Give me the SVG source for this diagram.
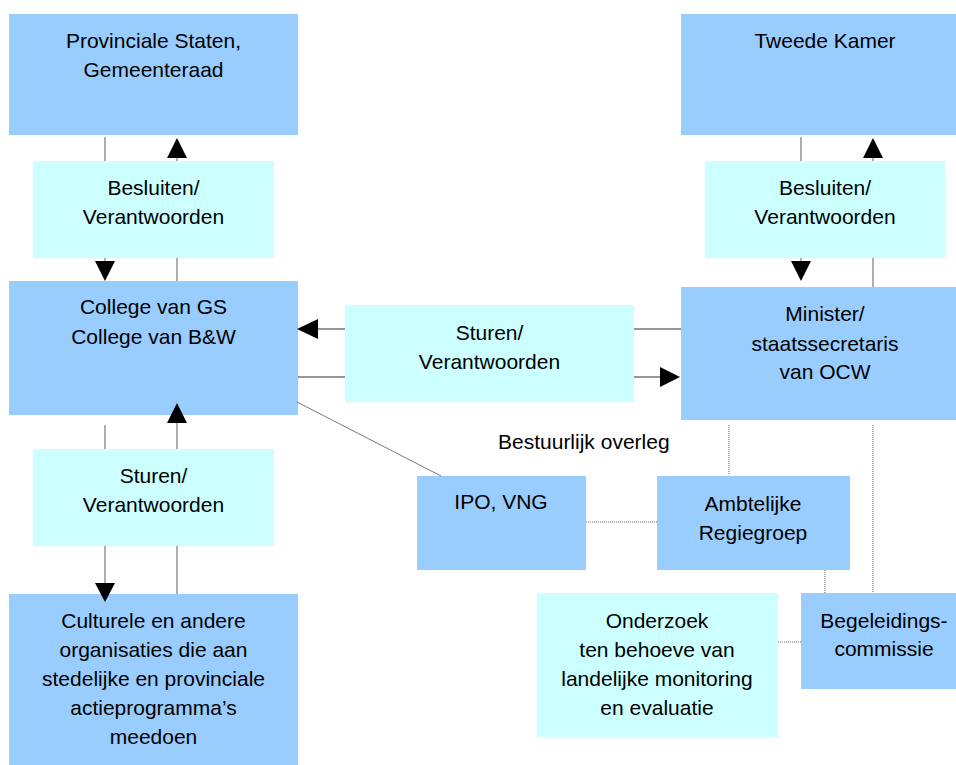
<svg xmlns="http://www.w3.org/2000/svg" width="956" height="765" viewBox="0 0 956 765">
<style>
.b{fill:#99CCFF}
.c{fill:#CCFFFF}
text{font-family:"Liberation Sans",Arial,sans-serif;font-size:21px;fill:#000;text-anchor:middle}
.g{stroke:#7a7a7a;stroke-width:1.2;fill:none}
.h{stroke:#333;stroke-width:1.2;fill:none}
.d{stroke:#666;stroke-width:1;stroke-dasharray:1,1;fill:none}
.t{stroke:#555;stroke-width:0.8;fill:none}
.a{fill:#000}
</style>
<rect width="956" height="765" fill="#fff"/>
<g id="provinciale">
<rect class="b" x="9" y="14" width="289" height="121"/>
<text x="153.5" y="48">Provinciale Staten,</text>
<text x="153.5" y="77">Gemeenteraad</text>
</g>
<g id="tweedekamer">
<rect class="b" x="681" y="14" width="288" height="121"/>
<text x="825" y="48">Tweede Kamer</text>
</g>
<g id="besluiten-left">
<rect class="c" x="33" y="161" width="241" height="97"/>
<text x="153.5" y="195">Besluiten/</text>
<text x="153.5" y="224">Verantwoorden</text>
</g>
<g id="besluiten-right">
<rect class="c" x="705" y="161" width="240" height="97"/>
<text x="825" y="195">Besluiten/</text>
<text x="825" y="224">Verantwoorden</text>
</g>
<g id="college">
<rect class="b" x="9" y="281" width="289" height="134"/>
<text x="153.5" y="314">College van GS</text>
<text x="153.5" y="344">College van B&amp;W</text>
</g>
<g id="sturen-mid">
<rect class="c" x="345" y="305" width="289" height="97"/>
<text x="489.5" y="340">Sturen/</text>
<text x="489.5" y="369">Verantwoorden</text>
</g>
<g id="minister">
<rect class="b" x="681" y="287" width="288" height="133"/>
<text x="825" y="321">Minister/</text>
<text x="825" y="351">staatssecretaris</text>
<text x="825" y="379">van OCW</text>
</g>
<g id="bestuurlijk">
<text x="498" y="449" style="text-anchor:start">Bestuurlijk overleg</text>
</g>
<g id="sturen-left">
<rect class="c" x="33" y="449" width="241" height="97"/>
<text x="153.5" y="483">Sturen/</text>
<text x="153.5" y="512">Verantwoorden</text>
</g>
<g id="ipo">
<rect class="b" x="417" y="476" width="169" height="94"/>
<text x="501" y="509">IPO, VNG</text>
</g>
<g id="ambtelijke">
<rect class="b" x="657" y="476" width="193" height="94"/>
<text x="753" y="511">Ambtelijke</text>
<text x="753" y="540">Regiegroep</text>
</g>
<g id="culturele">
<rect class="b" x="9" y="594" width="289" height="175"/>
<text x="153.5" y="628">Culturele en andere</text>
<text x="153.5" y="657">organisaties die aan</text>
<text x="153.5" y="686">stedelijke en provinciale</text>
<text x="153.5" y="715">actieprogramma’s</text>
<text x="153.5" y="744">meedoen</text>
</g>
<g id="onderzoek">
<rect class="c" x="537" y="593" width="241" height="144"/>
<text x="657" y="628">Onderzoek</text>
<text x="657" y="657">ten behoeve van</text>
<text x="657" y="686">landelijke monitoring</text>
<text x="657" y="715">en evaluatie</text>
</g>
<g id="begeleidings">
<rect class="b" x="801" y="593" width="166" height="96"/>
<text x="884" y="628">Begeleidings-</text>
<text x="884" y="656">commissie</text>
</g>
<g id="connectors">
<path class="g" d="M105,137V161M105,258V262"/>
<polygon class="a" points="95,261 115,261 105,281"/>
<path class="g" d="M177,281V258M177,161V157"/>
<polygon class="a" points="167,158 187,158 177,138"/>
<path class="g" d="M801,137V161M801,258V262"/>
<polygon class="a" points="791,261 811,261 801,281"/>
<path class="g" d="M873,287V258M873,161V157"/>
<polygon class="a" points="863,158 883,158 873,138"/>
<path class="g" d="M105,425V449M105,546V584"/>
<polygon class="a" points="95,583 115,583 105,602"/>
<path class="g" d="M177,594V546M177,449V422"/>
<polygon class="a" points="167,423 187,423 177,403"/>
<path class="h" d="M317,329H345M634,329H681"/>
<polygon class="a" points="318,319 318,339 297,329"/>
<path class="h" d="M298,377H345M634,377H661"/>
<polygon class="a" points="660,367 660,387 680,377"/>
<line class="t" x1="297" y1="402" x2="441" y2="476"/>
<line class="d" x1="586" y1="522" x2="657" y2="522"/>
<line class="d" x1="729" y1="425" x2="729" y2="474"/>
<line class="d" x1="873" y1="425" x2="873" y2="593"/>
<line class="d" x1="825" y1="570" x2="825" y2="593"/>
<line class="d" x1="778" y1="642" x2="801" y2="642"/>
</g>
</svg>
